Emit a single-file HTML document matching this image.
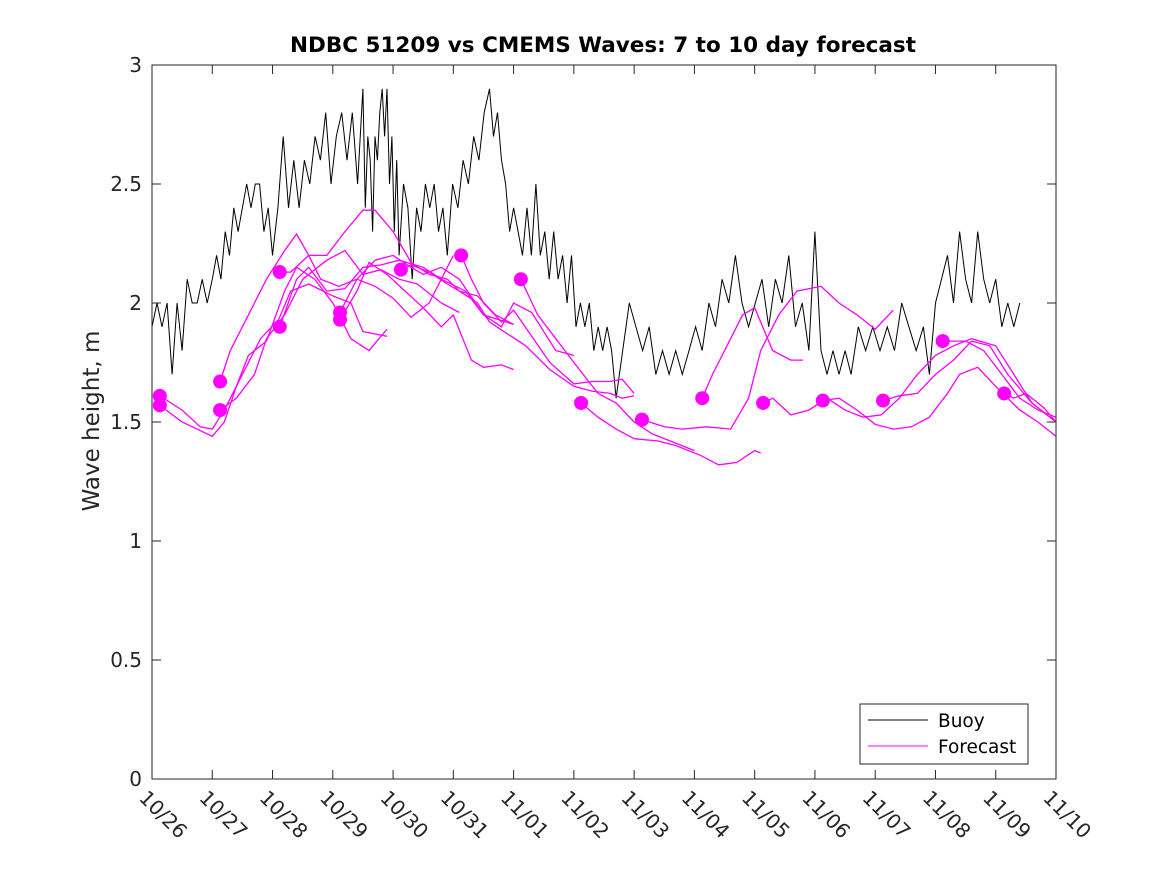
<!DOCTYPE html>
<html><head><meta charset="utf-8"><style>
body{margin:0;background:#fff;}
svg{display:block;font-family:"DejaVu Sans","Liberation Sans",sans-serif;}
</style></head><body>
<svg id="chart" width="1167" height="875">
<rect width="1167" height="875" fill="#fff"/>
<text x="603" y="52" text-anchor="middle" font-size="21.5" font-weight="bold" fill="#000">NDBC 51209 vs CMEMS Waves: 7 to 10 day forecast</text>
<text transform="translate(99,421) rotate(-90)" text-anchor="middle" font-size="23" fill="#262626">Wave height, m</text>
<g id="grid"></g>
<g id="series"></g>
<rect x="152" y="65" width="904" height="714" fill="none" stroke="#262626" stroke-width="1"/>
<g>
<rect x="860" y="704" width="168" height="60" fill="#fff" stroke="#262626" stroke-width="1"/>
<line x1="868" y1="720" x2="928" y2="720" stroke="#000"/>
<text x="938" y="727" font-size="18.5" fill="#000">Buoy</text>
<line x1="868" y1="746" x2="928" y2="746" stroke="#f0f"/>
<text x="938" y="753" font-size="18.5" fill="#000">Forecast</text>
</g>
</svg>
<script>
const xLabels=["10/26","10/27","10/28","10/29","10/30","10/31","11/01","11/02","11/03","11/04","11/05","11/06","11/07","11/08","11/09","11/10"];
const yTicks=[0,0.5,1,1.5,2,2.5,3];
const buoy=[1.9,2.0,1.9,2.0,1.7,2.0,1.8,2.1,2.0,2.0,2.1,2.0,2.1,2.2,2.1,2.3,2.2,2.4,2.3,2.4,2.5,2.4,2.5,2.5,2.3,2.4,2.2,2.4,2.7,2.4,2.6,2.4,2.6,2.5,2.7,2.6,2.8,2.5,2.7,2.8,2.6,2.8,2.5,2.9,2.4,2.7,2.6,2.3,2.7,2.6,2.8,2.9,2.7,2.9,2.5,2.7,2.3,2.6,2.2,2.5,2.4,2.1,2.4,2.3,2.5,2.4,2.5,2.3,2.4,2.2,2.5,2.4,2.6,2.5,2.7,2.6,2.8,2.9,2.7,2.8,2.6,2.5,2.3,2.4,2.3,2.2,2.4,2.2,2.5,2.2,2.3,2.1,2.3,2.1,2.2,2.0,2.2,1.9,2.0,1.9,2.0,1.8,1.9,1.8,1.9,1.8,1.6,1.8,2.0,1.9,1.8,1.9,1.7,1.8,1.7,1.8,1.7,1.8,1.9,1.8,2.0,1.9,2.1,2.0,2.2,2.0,1.9,2.0,2.1,1.9,2.1,2.0,2.2,1.9,2.0,1.8,2.3,1.8,1.7,1.8,1.7,1.8,1.7,1.9,1.8,1.9,1.8,1.9,1.8,2.0,1.9,1.8,1.9,1.7,2.0,2.1,2.2,2.0,2.3,2.1,2.0,2.3,2.1,2.0,2.1,1.9,2.0,1.9,2.0];
// time anchors: sample index -> day since 10/26
const buoyKnotIdx=[0,12,26,43,58,69,77,83,106,116,126,135,142,152,167];
const buoyKnotDay=[0,1.0,2.0,3.5,4.1,4.9,5.6,6.0,7.7,8.8,9.9,10.9,11.6,12.8,14.3];
const fcTimes=[
[0.13,0.5,0.8,1.0,1.2,1.5,1.8,2.1,2.3,2.6,3.0,3.3,3.5,3.9],
[0.13,0.5,1.0,1.2,1.4,1.6,1.9,2.2,2.4,2.7,3.0,3.3,3.6,3.9],
[1.13,1.3,1.6,1.9,2.2,2.4,2.6,2.8,3.1,3.4,3.7,4.0,4.3,4.6,4.8,5.0],
[1.13,1.4,1.7,1.9,2.2,2.5,2.9,3.2,3.5,3.8,4.1,4.4,4.8,5.1],
[2.12,2.3,2.6,2.9,3.2,3.5,3.7,4.0,4.3,4.6,4.9,5.1,5.4,5.7,6.0],
[2.12,2.4,2.6,2.9,3.2,3.5,3.8,4.1,4.5,4.8,5.2,5.5,6.0],
[3.12,3.4,3.7,4.0,4.3,4.5,4.8,5.1,5.5,5.8,6.0,6.3,6.7,7.0],
[3.12,3.4,3.6,3.9,4.2,4.5,4.8,5.0,5.3,5.5,5.8,6.0],
[4.13,4.3,4.6,4.9,5.1,5.4,5.6,5.9,6.2,6.6,7.0,7.3,7.6,7.8,8.0],
[5.13,5.3,5.5,5.8,6.0,6.3,6.6,7.0,7.3,7.6,7.8,8.0],
[6.12,6.4,6.7,7.0,7.4,7.7,8.0,8.3,8.6,9.0],
[7.12,7.4,7.7,8.0,8.4,8.7,9.1,9.4,9.7,10.0,10.1],
[8.13,8.5,8.8,9.2,9.6,9.9,10.1,10.4,10.7,11.1,11.4,11.7,12.0,12.3],
[9.13,9.3,9.6,9.8,10.0,10.3,10.6,10.8],
[10.14,10.3,10.6,10.9,11.2,11.5,11.8,12.1,12.4,12.7,13.0,13.3,13.6,14.0,14.3,14.6,15.0],
[11.13,11.4,11.7,12.0,12.3,12.6,12.9,13.2,13.4,13.7,14.0,14.4,14.7,15.0],
[12.13,12.4,12.7,13.0,13.3,13.6,13.9,14.2,14.6,14.9,15.0],
[13.12,13.5,13.8,14.1,14.4,14.7,15.0],
[14.14,14.3,14.5,14.8,15.0]];
const fcValues=[
[1.61,1.55,1.48,1.47,1.55,1.7,1.85,1.93,2.05,2.08,2.03,2.0,1.88,1.86],
[1.57,1.5,1.44,1.5,1.65,1.78,1.84,2.05,2.15,2.1,2.0,1.85,1.8,1.89],
[1.67,1.8,1.95,2.1,2.22,2.29,2.2,2.1,2.07,2.1,2.07,2.02,1.94,2.0,2.1,2.2],
[1.55,1.6,1.7,1.85,1.95,2.1,2.18,2.22,2.12,2.14,2.1,2.08,2.0,1.96],
[2.13,2.13,2.2,2.2,2.3,2.39,2.39,2.3,2.17,2.12,2.1,2.05,2.03,1.95,1.91],
[1.9,2.1,2.15,2.05,2.06,2.15,2.16,2.18,2.15,2.1,2.05,1.95,1.91],
[1.96,2.1,2.18,2.2,2.15,2.12,2.15,2.1,1.95,1.9,2.0,1.96,1.8,1.78],
[1.93,2.05,2.17,2.12,2.05,1.98,1.9,1.95,1.76,1.73,1.74,1.72],
[2.14,2.16,2.13,2.08,2.05,2.0,1.92,1.87,1.82,1.72,1.65,1.63,1.62,1.6,1.61],
[2.2,2.1,2.0,1.92,1.97,1.86,1.75,1.66,1.67,1.67,1.68,1.62],
[2.1,1.95,1.85,1.75,1.62,1.58,1.5,1.45,1.42,1.38],
[1.58,1.52,1.47,1.43,1.42,1.4,1.36,1.32,1.33,1.38,1.37],
[1.51,1.48,1.47,1.48,1.47,1.6,1.8,1.95,2.05,2.07,2.0,1.95,1.89,1.97],
[1.6,1.7,1.85,1.95,1.98,1.8,1.76,1.76],
[1.58,1.6,1.53,1.55,1.6,1.55,1.52,1.53,1.6,1.7,1.78,1.82,1.85,1.82,1.7,1.58,1.5],
[1.59,1.6,1.55,1.49,1.47,1.48,1.52,1.62,1.7,1.73,1.65,1.55,1.5,1.44],
[1.59,1.61,1.62,1.7,1.76,1.84,1.82,1.7,1.58,1.52,1.5],
[1.84,1.84,1.8,1.7,1.6,1.55,1.52],
[1.62,1.6,1.62,1.56,1.5]];
const X0=152,X1=1056,Y0=779,Y1=65;
const xs=d=>X0+d/15*(X1-X0);
const ys=v=>Y0-v/3*(Y0-Y1);
function idxToDay(i){
 for(let k=0;k<buoyKnotIdx.length-1;k++){
  const a=buoyKnotIdx[k],b=buoyKnotIdx[k+1];
  if(i<=b||k===buoyKnotIdx.length-2){return buoyKnotDay[k]+(i-a)/(b-a)*(buoyKnotDay[k+1]-buoyKnotDay[k]);}
 }
}
const NS="http://www.w3.org/2000/svg";
function mk(tag,attrs,parent){const e=document.createElementNS(NS,tag);for(const k in attrs)e.setAttribute(k,attrs[k]);parent.appendChild(e);return e;}
const grid=document.getElementById('grid'),series=document.getElementById('series');
yTicks.forEach(v=>{const y=ys(v);
 let t=mk('line',{x1:X0,y1:y,x2:X0+9,y2:y,stroke:'#262626'},grid);
 
 
 let t2=mk('line',{x1:X1,y1:y,x2:X1-9,y2:y,stroke:'#262626'},grid);
 
 
 let l=mk('text',{x:X0-10,y:y+7,'text-anchor':'end','font-size':20,fill:'#262626'},grid);
 l.textContent=String(v);
 
 
});
xLabels.forEach((s,i)=>{const x=xs(i);
 let t=mk('line',{x1:x,y1:Y0,x2:x,y2:Y0-9,stroke:'#262626'},grid);
 
 
 let t2=mk('line',{x1:x,y1:Y1,x2:x,y2:Y1+9,stroke:'#262626'},grid);
 
 
 let l=mk('text',{transform:`translate(${x-14},${Y0+20}) rotate(45)`,'font-size':20,fill:'#262626'},grid);
 l.textContent=s;
 
 
});
const bp=buoy.map((v,i)=>xs(idxToDay(i)).toFixed(1)+','+ys(v).toFixed(1)).join(' ');
const bl=mk('polyline',{points:bp,fill:'none',stroke:'#000','stroke-width':1},series);


fcTimes.forEach((ts,k)=>{const vs=fcValues[k];
 const p=ts.map((t,i)=>xs(t).toFixed(1)+','+ys(vs[i]).toFixed(1)).join(' ');
 const pl=mk('polyline',{points:p,fill:'none',stroke:'#f0f','stroke-width':1.3},series);
 
 
});
fcTimes.forEach((ts,k)=>{
 const c=mk('circle',{cx:xs(ts[0]),cy:ys(fcValues[k][0]),r:7,fill:'#f0f'},series);
 
 
});
</script>
</body></html>
